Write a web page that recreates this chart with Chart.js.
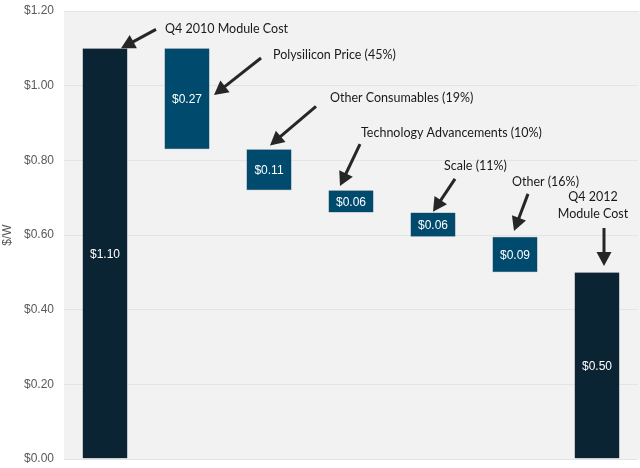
<!DOCTYPE html>
<html>
<head>
<meta charset="utf-8">
<script src="https://cdn.jsdelivr.net/npm/chart.js@4"></script>
<style>
  html, body { margin: 0; padding: 0; background: #ffffff; }
  #wrap { width: 640px; height: 468px; }
</style>
</head>
<body>
<div id="wrap"><canvas id="waterfall"></canvas></div>
<script>
// waterfall: bar ranges in $/W
var categories = ['Q4 2010 Module Cost', 'Polysilicon Price', 'Other Consumables', 'Technology Advancements', 'Scale', 'Other', 'Q4 2012 Module Cost'];
var barLow = [0, 0.83, 0.72, 0.66, 0.595, 0.50, 0];
var barHigh = [1.10, 1.10, 0.83, 0.72, 0.66, 0.595, 0.50];
var valueLabels = ['$1.10', '$0.27', '$0.11', '$0.06', '$0.06', '$0.09', '$0.50'];
var yTicks = [0, 0.2, 0.4, 0.6, 0.8, 1.0, 1.2];

// callouts: arrow tip at (bar index, value), tail offset in px, text offset from tail
var callouts = [
    { idx: 0, value: 1.10, dx: 16, tail: [35, -19], text: ['Q4 2010 Module Cost'], tx: 9, ty: 0, align: 'left' },
    { idx: 1, value: 0.975, dx: 27, tail: [47, -37], text: ['Polysilicon Price (45%)'], tx: 12, ty: -3, align: 'left' },
    { idx: 2, value: 0.84, dx: 1, tail: [46, -39], text: ['Other Consumables (19%)'], tx: 14, ty: -8, align: 'left' },
    { idx: 3, value: 0.731, dx: -11, tail: [20, -42], text: ['Technology Advancements (10%)'], tx: 1, ty: -11, align: 'left' },
    { idx: 4, value: 0.662, dx: 0, tail: [22, -33], text: ['Scale (11%)'], tx: -11, ty: -13, align: 'left' },
    { idx: 5, value: 0.611, dx: -1, tail: [14, -37], text: ['Other (16%)'], tx: -16, ty: -12, align: 'left' },
    { idx: 6, value: 0.517, dx: 7, tail: [0, -38], text: ['Q4 2012', 'Module Cost'], tx: -11, ty: -31, align: 'center' }
];

var darkColor = '#0b2433';
var blueColor = '#004a6e';
var barColors = categories.map(function(c, i) {
    return (i === 0 || i === categories.length - 1) ? darkColor : blueColor;
});

var plotBackground = {
    id: 'plotBackground',
    beforeDraw: function(chart) {
        var a = chart.chartArea, ctx = chart.ctx;
        ctx.save();
        ctx.fillStyle = '#f2f2f2';
        ctx.fillRect(a.left, a.top, chart.width - a.left, a.bottom - a.top);
        ctx.restore();
    }
};

var annotations = {
    id: 'annotations',
    afterDatasetsDraw: function(chart) {
        var ctx = chart.ctx;
        var meta = chart.getDatasetMeta(0);
        var y = chart.scales.y;
        ctx.save();

        // value labels inside bars
        ctx.fillStyle = '#ffffff';
        ctx.font = '12px "Liberation Sans", Arial, sans-serif';
        ctx.textAlign = 'center';
        ctx.textBaseline = 'middle';
        meta.data.forEach(function(bar, i) {
            var mid = y.getPixelForValue((barLow[i] + barHigh[i]) / 2);
            ctx.fillText(valueLabels[i], bar.x, mid + 1);
        });

        // arrows and callout text
        callouts.forEach(function(c) {
            var hx = meta.data[c.idx].x + c.dx;
            var hy = y.getPixelForValue(c.value);
            var tx = hx + c.tail[0], ty = hy + c.tail[1];
            var ang = Math.atan2(hy - ty, hx - tx);
            var len = 14, half = 7.5;
            var bx = hx - len * Math.cos(ang), by = hy - len * Math.sin(ang);
            ctx.strokeStyle = '#262626';
            ctx.fillStyle = '#262626';
            ctx.lineWidth = 3;
            ctx.beginPath();
            ctx.moveTo(tx, ty);
            ctx.lineTo(bx + 2 * Math.cos(ang), by + 2 * Math.sin(ang));
            ctx.stroke();
            ctx.beginPath();
            ctx.moveTo(hx, hy);
            ctx.lineTo(bx - half * Math.sin(ang), by + half * Math.cos(ang));
            ctx.lineTo(bx + half * Math.sin(ang), by - half * Math.cos(ang));
            ctx.closePath();
            ctx.fill();

            ctx.fillStyle = '#1a1a1a';
            ctx.font = '12.5px Lato, "Open Sans", sans-serif';
            ctx.textAlign = c.align;
            ctx.textBaseline = 'middle';
            c.text.forEach(function(line, k) {
                ctx.fillText(line, tx + c.tx, ty + c.ty + k * 17);
            });
        });
        ctx.restore();
    }
};

new Chart(document.getElementById('waterfall'), {
    type: 'bar',
    data: {
        labels: categories,
        datasets: [{
            data: categories.map(function(c, i) { return [barLow[i], barHigh[i]]; }),
            backgroundColor: barColors,
            borderColor: '#5a6b78',
            borderWidth: 0.5,
            borderSkipped: false,
            categoryPercentage: 1,
            barPercentage: 0.55
        }]
    },
    options: {
        responsive: true,
        maintainAspectRatio: false,
        animation: false,
        layout: { padding: { top: 11, right: 2, bottom: 9, left: 0 } },
        plugins: {
            legend: { display: false },
            tooltip: { enabled: false }
        },
        scales: {
            x: {
                display: false
            },
            y: {
                min: 0,
                max: 1.2,
                afterBuildTicks: function(scale) {
                    scale.ticks = yTicks.map(function(v) { return { value: v }; });
                },
                afterFit: function(scale) {
                    scale.width = 64;
                    scale.paddingTop = 0;
                    scale.paddingBottom = 0;
                },
                border: { display: false },
                grid: { color: '#e4e4e4', drawTicks: false },
                ticks: {
                    color: '#595959',
                    padding: 10,
                    font: { family: '"Liberation Sans", Arial, sans-serif', size: 12 },
                    callback: function(v) { return '$' + Number(v).toFixed(2); }
                },
                title: {
                    display: true,
                    text: '$/W',
                    color: '#595959',
                    padding: { top: 0, bottom: 4 },
                    font: { family: '"Liberation Sans", Arial, sans-serif', size: 12 }
                }
            }
        }
    },
    plugins: [plotBackground, annotations]
});
</script>
</body>
</html>
